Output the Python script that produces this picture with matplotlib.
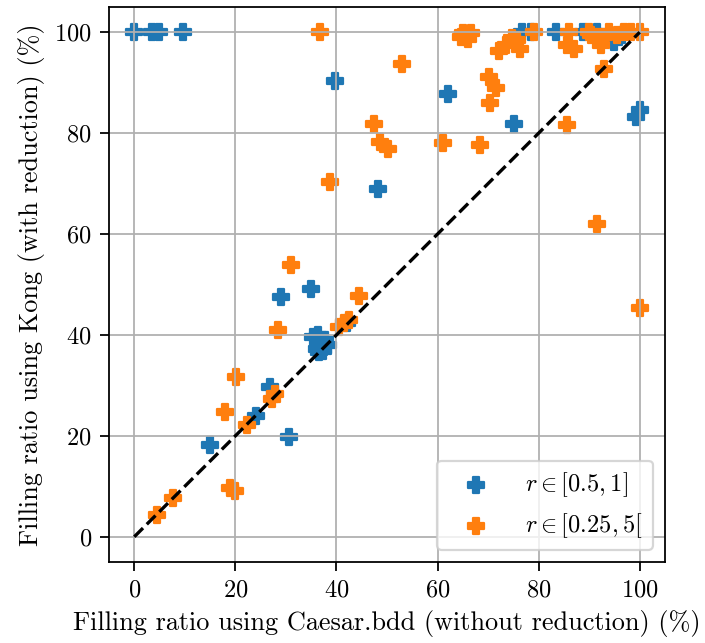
import numpy as np
import matplotlib
matplotlib.use('Agg')
import matplotlib.pyplot as plt

plt.rcParams['font.family'] = 'serif'
plt.rcParams['font.serif'] = ['cmr10', 'DejaVu Serif']
plt.rcParams['mathtext.fontset'] = 'cm'
plt.rcParams['axes.formatter.use_mathtext'] = True
plt.rcParams['font.size'] = 11
plt.rcParams['axes.labelsize'] = 11.8
plt.rcParams['xtick.major.size'] = 4.2
plt.rcParams['ytick.major.size'] = 4.2

#%% data (filling ratios in %)

# r in [0.5, 1]
x_blue = [0, 3.5, 4.8, 9.6, 39.7, 48.2, 62.1, 75.1, 100, 99.2,
          76.7, 78.4, 83.4, 88.8, 91.5, 94.9, 96.5,
          35.0, 29.0,
          35.3, 36.3, 37.8, 36.8, 38.3, 36.2, 37.3, 36.6, 42.1,
          26.9, 24.1, 30.7, 15.0]
y_blue = [100, 100, 100, 100, 90.4, 69.0, 87.7, 81.9, 84.6, 83.1,
          100, 100, 100, 100, 100, 98.0, 99.5,
          49.2, 47.5,
          39.6, 40.0, 39.0, 38.3, 38.0, 37.3, 36.9, 36.6, 42.3,
          29.6, 24.0, 19.7, 18.1]

# r in [0.25, 5[
x_orange = [36.8, 53.0, 47.5, 48.7, 50.2, 38.8,
            65.0, 66.6, 64.7, 66.0,
            72.2, 73.5, 74.8, 76.4, 75.8, 79.1,
            86.0, 85.7, 87.0,
            89.9, 90.3, 92.3, 91.9, 93.9, 95.5, 96.9, 98.2, 100,
            92.9, 70.2, 71.5, 70.4, 85.7, 61.1, 68.4, 91.5, 100,
            31.1, 44.4, 28.4, 41.5, 42.4, 40.5,
            20.1, 27.9, 27.3, 18.0, 22.3, 18.9, 19.9, 7.7, 4.5]
y_orange = [100, 93.7, 81.8, 78.3, 76.8, 70.4,
            99.8, 99.9, 99.0, 98.6,
            96.2, 97.5, 98.8, 96.6, 98.4, 100,
            100, 97.5, 96.6,
            100, 99.4, 97.5, 99.1, 100, 99.5, 100, 100, 100,
            92.8, 91.2, 89.0, 85.9, 81.7, 78.1, 77.6, 62.0, 45.4,
            53.9, 47.7, 41.0, 42.3, 43.0, 41.6,
            31.7, 28.2, 27.3, 24.7, 22.2, 9.6, 9.0, 7.7, 4.4]

#%%

fig = plt.figure(figsize=(705/160, 643/160), dpi=160)
ax = fig.add_axes([109/705, 1 - 562/643, 556/705, 555/643])

ax.scatter(x_blue, y_blue, marker='P', s=55, label=r'$r \in [0.5, 1]$')
ax.scatter(x_orange, y_orange, marker='P', s=55, label=r'$r \in [0.25, 5[$')
ax.plot([0, 100], [0, 100], 'k--')

ax.set_xlim(-5, 105)
ax.set_ylim(-5, 105)
ax.grid(True)
ax.set_xlabel('Filling ratio using Caesar.bdd (without reduction) (%)')
ax.set_ylabel('Filling ratio using Kong (with reduction) (%)')
ax.legend(loc='lower right', handlelength=2.4)

fig.savefig('out.png', dpi=160)
